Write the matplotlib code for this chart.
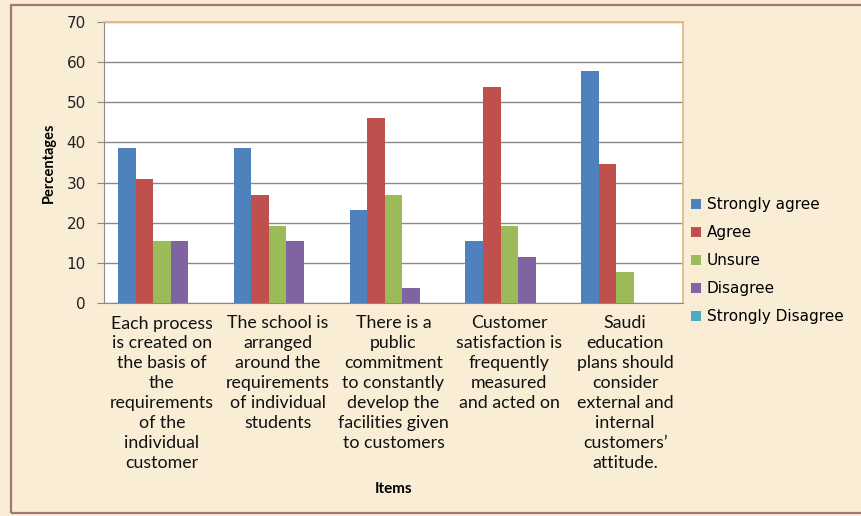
import numpy as np
import matplotlib.pyplot as plt
from matplotlib.patches import Rectangle

items = [
    "Each process\nis created on\nthe basis of\nthe\nrequirements\nof the\nindividual\ncustomer",
    "The school is\narranged\naround the\nrequirements\nof individual\nstudents",
    "There is a\npublic\ncommitment\nto constantly\ndevelop the\nfacilities given\nto customers",
    "Customer\nsatisfaction is\nfrequently\nmeasured\nand acted on",
    "Saudi\neducation\nplans should\nconsider\nexternal and\ninternal\ncustomers\u2019\nattitude.",
]
series_names = ["Strongly agree", "Agree", "Unsure", "Disagree", "Strongly Disagree"]
strongly_agree = [38.5, 38.5, 23.1, 15.4, 57.7]
agree = [30.8, 26.9, 46.2, 53.8, 34.6]
unsure = [15.4, 19.2, 26.9, 19.2, 7.7]
disagree = [15.4, 15.4, 3.8, 11.5, 0.0]
strongly_disagree = [0.0, 0.0, 0.0, 0.0, 0.0]
yticks = [0, 10, 20, 30, 40, 50, 60, 70]

colors = ["#4F81BD", "#C0504D", "#9BBB59", "#8064A2", "#4BACC6"]
bg = "#F9EDD6"

fig = plt.figure(figsize=(8.62, 5.16), dpi=100, facecolor=bg)
fig.patches.append(Rectangle((11 / 862, 3 / 516), 1.0, 508 / 516, transform=fig.transFigure,
                             fill=False, edgecolor="#A0787A", linewidth=1.6))

ax = fig.add_axes([104 / 862, 213 / 516, 579 / 862, 281 / 516])
ax.set_facecolor("white")

data = [strongly_agree, agree, unsure, disagree, strongly_disagree]
x = np.arange(len(items))
w = 1 / 6.6
for i, (vals, name) in enumerate(zip(data, series_names)):
    ax.bar(x - 2 * w + i * w, vals, width=w, color=colors[i], label=name, zorder=3)

ax.set_xlim(-0.5, len(items) - 0.5)
ax.set_ylim(0, 70)
ax.set_yticks(yticks)
ax.set_yticklabels([str(t) for t in yticks], fontsize=11, color="#222222")
ax.yaxis.grid(True, color="#8A8A8A", linewidth=1.0, zorder=0)
ax.tick_params(axis="y", length=5, color="#8A8A8A", pad=8)
ax.set_xticks(x)
ax.set_xticklabels(items, fontsize=12.8, family="Lato", linespacing=1.3, color="#111111")
ax.tick_params(axis="x", length=0, pad=9)

for s in ["left", "bottom"]:
    ax.spines[s].set_color("#8A8A8A")
for s in ["top", "right"]:
    ax.spines[s].set_color("#E3B98A")
    ax.spines[s].set_linewidth(1.3)

ax.set_ylabel("Percentages", fontsize=10.5, fontweight="bold", labelpad=8, family="Lato")
ax.set_xlabel("Items", fontsize=11, fontweight="bold", labelpad=8, family="Lato")

ax.legend(loc="center left", bbox_to_anchor=(1.0, 0.151), frameon=False, fontsize=11,
          handlelength=0.65, handleheight=0.65, handletextpad=0.4, labelspacing=0.85,
          borderaxespad=0.1)

fig.savefig("out.png", dpi=100, facecolor=bg)
